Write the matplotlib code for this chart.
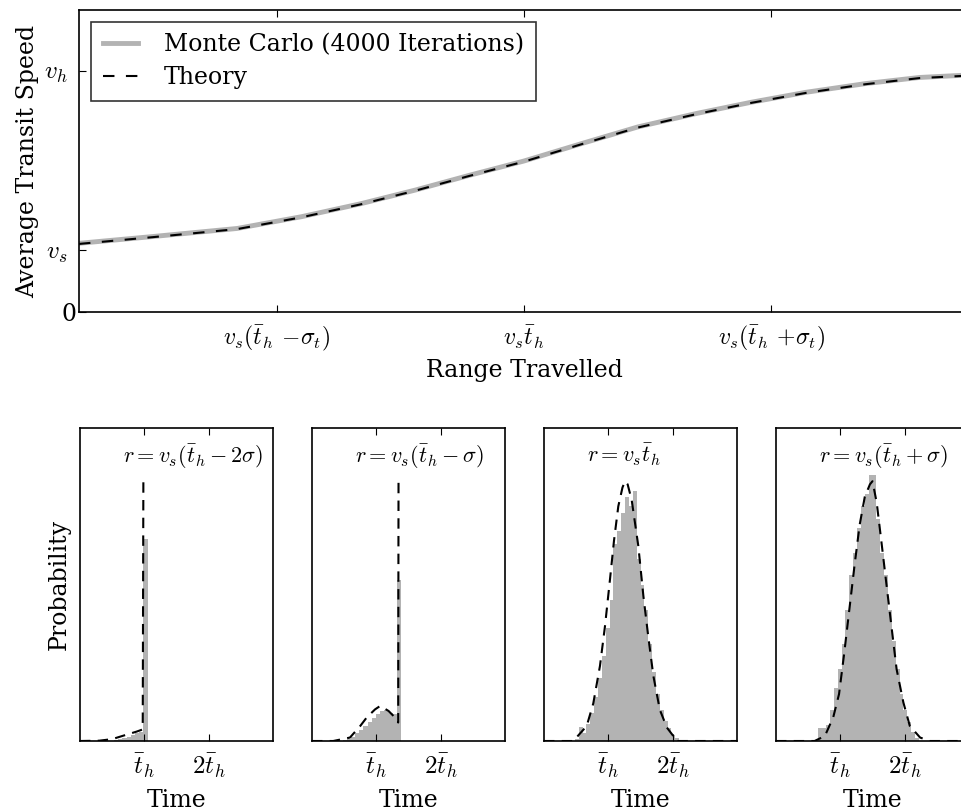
import matplotlib
matplotlib.use("Agg")
import matplotlib.pyplot as plt
import matplotlib.transforms as mtransforms
import numpy as np

plt.rcParams["font.family"] = "DejaVu Serif"
plt.rcParams["mathtext.fontset"] = "cm"
plt.rcParams["font.size"] = 17
plt.rcParams["xtick.direction"] = "in"
plt.rcParams["ytick.direction"] = "in"
plt.rcParams["xtick.top"] = True
plt.rcParams["ytick.right"] = True
plt.rcParams["xtick.major.size"] = 5
plt.rcParams["ytick.major.size"] = 5
plt.rcParams["axes.linewidth"] = 1.2

# --- top panel: average transit speed vs range (range in units of v_s*t_h, speed in units of v_s)
range_pts = [0.10, 0.25, 0.42, 0.55, 0.67, 0.78, 0.89, 1.00, 1.12, 1.23, 1.35, 1.46, 1.57, 1.69, 1.80, 1.90]
speed_mc = [1.11, 1.22, 1.35, 1.54, 1.75, 1.97, 2.21, 2.44, 2.73, 2.99, 3.21, 3.39, 3.55, 3.69, 3.79, 3.83]
speed_th = [1.10, 1.21, 1.34, 1.53, 1.74, 1.96, 2.20, 2.43, 2.72, 2.98, 3.20, 3.38, 3.54, 3.68, 3.78, 3.82]
range_ticks = [0.5, 1.0, 1.5]
range_labels = [r"$v_s(\bar{t}_h\,-\!\sigma_t)$", r"$v_s\bar{t}_h$", r"$v_s(\bar{t}_h\,+\!\sigma_t)$"]
speed_ticks = [0.0, 1.0, 3.9]
speed_labels = ["0", r"$v_s$", r"$v_h$"]

# --- bottom panels: travel time distributions (time in units of t_h)
titles = [r"$r=v_s(\bar{t}_h-2\sigma)$", r"$r=v_s(\bar{t}_h-\sigma)$",
          r"$r=v_s\bar{t}_h$", r"$r=v_s(\bar{t}_h+\sigma)$"]

hist_start = [0.465, 0.475, 0.48, 0.66]
hist_width = [0.065, 0.065, 0.06, 0.06]
hist_heights = [
    [0.001, 0.003, 0.006, 0.009, 0.013, 0.018, 0.024, 0.03, 0.645],
    [0.002, 0.006, 0.014, 0.025, 0.036, 0.048, 0.062, 0.075, 0.087, 0.097, 0.10, 0.09, 0.085, 0.515],
    [0.005, 0.045, 0.025, 0.055, 0.09, 0.14, 0.20, 0.27, 0.36, 0.45, 0.63, 0.67, 0.73, 0.78,
     0.75, 0.80, 0.58, 0.50, 0.42, 0.31, 0.22, 0.15, 0.10, 0.065, 0.04, 0.02, 0.01],
    [0.04, 0.04, 0.05, 0.10, 0.17, 0.23, 0.31, 0.42, 0.53, 0.60, 0.68, 0.75, 0.79, 0.85, 0.85,
     0.71, 0.60, 0.53, 0.42, 0.32, 0.23, 0.15, 0.10, 0.06, 0.03, 0.01],
]

# first two theory curves end at their spike (the density is zero after it)
theory_t = [
    [0.0, 0.30, 0.50, 0.72, 0.88, 0.975, 0.985],
    [0.0, 0.33, 0.59, 0.75, 0.85, 0.98, 1.06, 1.19, 1.29, 1.34, 1.345],
    [0.0, 0.456, 0.664, 0.766, 0.87, 0.948, 1.026, 1.088, 1.155, 1.22, 1.26, 1.30, 1.363,
     1.466, 1.545, 1.62, 1.70, 1.80, 1.91, 2.01, 2.05, 3.0],
    [0.0, 0.60, 0.76, 0.89, 0.98, 1.06, 1.14, 1.22, 1.30, 1.38, 1.46, 1.50, 1.565, 1.64,
     1.72, 1.80, 1.875, 1.98, 2.08, 2.24, 2.39, 3.0],
]
theory_p = [
    [0.0, 0.001, 0.006, 0.02, 0.03, 0.037, 0.83],
    [0.0, 0.0, 0.011, 0.048, 0.075, 0.101, 0.112, 0.096, 0.075, 0.059, 0.836],
    [0.0, 0.0, 0.048, 0.12, 0.24, 0.367, 0.517, 0.64, 0.75, 0.81, 0.83, 0.82, 0.77,
     0.623, 0.463, 0.335, 0.208, 0.10, 0.043, 0.016, 0.0, 0.0],
    [0.0, 0.0, 0.016, 0.076, 0.15, 0.28, 0.42, 0.56, 0.69, 0.78, 0.82, 0.83, 0.762, 0.634,
     0.495, 0.357, 0.229, 0.123, 0.048, 0.011, 0.0, 0.0],
]

gray = "#b3b3b3"
W, H = 961.0, 811.0
fig = plt.figure(figsize=(W / 100, H / 100), dpi=100)

ax = fig.add_axes([79 / W, 1 - 312 / H, 890 / W, 302 / H])
ax.plot(range_pts, speed_mc, color=gray, lw=3.5, label="Monte Carlo (4000 Iterations)")
ax.plot(range_pts, speed_th, color="k", lw=1.5, dashes=(5.5, 5.5), label="Theory")
ax.set_xlim(0.1, 1.9)
ax.set_ylim(0, 4.88)
ax.set_xticks(range_ticks)
ax.set_xticklabels(range_labels, fontsize=17)
ax.set_yticks(speed_ticks)
ax.set_yticklabels(speed_labels, fontsize=18)
ax.tick_params(axis="both", pad=8)
# the plain "0" sits closer to the spine than the math labels
zero = ax.get_yticklabels()[0]
zero.set_fontsize(17)
zero.set_transform(zero.get_transform() + mtransforms.ScaledTranslation(0.09, 0, fig.dpi_scale_trans))
ax.set_xlabel("Range Travelled")
ax.set_ylabel("Average Transit Speed")
leg = ax.legend(loc="upper left", fancybox=False, handlelength=1.5, handletextpad=1.1,
                borderaxespad=0.5, borderpad=0.5, labelspacing=0.4)
leg.get_frame().set_edgecolor("k")
leg.get_frame().set_linewidth(1.2)

for i, left in enumerate([80, 312, 544, 776]):
    a = fig.add_axes([left / W, 70 / H, 193 / W, 313 / H])
    n = len(hist_heights[i])
    edges = hist_start[i] + hist_width[i] * np.arange(n)
    a.bar(edges, hist_heights[i], width=hist_width[i], align="edge", color=gray, lw=0)
    a.plot(theory_t[i], theory_p[i], color="k", lw=1.5, dashes=(5, 3.5))
    a.set_xlim(0, 3)
    a.set_ylim(0, 1)
    a.set_yticks([])
    a.set_xticks([1, 2])
    a.set_xticklabels([r"$\bar{t}_h$", r"$2\bar{t}_h$"], fontsize=18)
    a.tick_params(axis="x", pad=8)
    a.set_xlabel("Time", labelpad=6)
    a.text(0.223, 0.955, titles[i], transform=a.transAxes, ha="left", va="top", fontsize=16)
    if i == 0:
        a.set_ylabel("Probability", labelpad=7)

fig.savefig("out.png", dpi=100)
